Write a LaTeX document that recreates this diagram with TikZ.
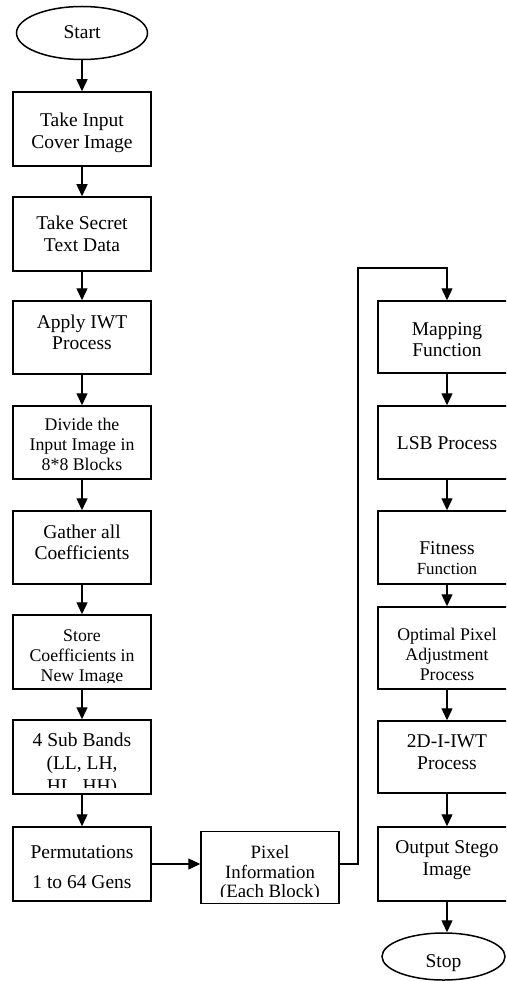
\documentclass[tikz,border=0pt]{standalone}
\usepackage{fontspec}
\setmainfont{Liberation Serif}
\usetikzlibrary{shapes.geometric,arrows.meta}
\newcommand\fbig{\fontsize{19.5}{21.5}\selectfont}
\newcommand\fsmall{\fontsize{17.8}{20}\selectfont}
\tikzset{
  box/.style={draw, line width=1.5pt, minimum width=138pt, minimum height=74pt, inner sep=0pt},
  oval/.style={draw, ellipse, line width=1.5pt, inner sep=0pt},
  txt/.style n args={3}{path picture={
      \clip ([yshift=7pt]path picture bounding box.south west) rectangle (path picture bounding box.north east);
      \node[inner sep=0pt, align=center, font=#1] at ([yshift=#2]path picture bounding box.center) {#3};}},
  etxt/.style n args={3}{path picture={
      \node[inner sep=0pt, align=center, font=#1] at ([yshift=#2]path picture bounding box.center) {#3};}},
  arr/.style={line width=1.4pt, -{Triangle[length=12pt, width=11pt]}},
}
\begin{document}
\begin{tikzpicture}[x=1pt, y=-1pt]
\useasboundingbox (0,0) rectangle (506,981);
\clip (0,0) rectangle (506,981);
\fill[white] (0,0) rectangle (506,981);

% left column
\node[oval, minimum width=131pt, minimum height=53pt, etxt={\fbig}{1pt}{Start}] (start) at (82,33) {};
\node[box, txt={\fbig}{-4pt}{Take Input\\Cover Image}] (b1) at (82,129) {};
\node[box, txt={\fbig}{0pt}{Take Secret\\Text Data}] (b2) at (82,234) {};
\node[box, minimum height=73pt, txt={\fbig}{5pt}{Apply IWT\\Process}] (b3) at (82,337.5) {};
\node[box, minimum height=73pt, txt={\fsmall}{-1.5pt}{Divide the\\Input Image in\\8*8 Blocks}] (b4) at (82,442.5) {};
\node[box, minimum height=73pt, txt={\fbig}{5pt}{Gather all\\Coefficients}] (b5) at (82,547.5) {};
\node[box, txt={\fsmall}{-6pt}{Store\\Coefficients in\\New Image}] (b6) at (82,652) {};
\node[box, txt={\fontsize{19.5}{23}\selectfont}{-8pt}{4 Sub Bands\\(LL, LH,\\HL, HH)}] (b7) at (82,757) {};
\node[box, txt={\fontsize{19.5}{30}\selectfont}{-2.7pt}{Permutations\\1 to 64 Gens}] (b8) at (82,864) {};
\node[box, minimum height=72pt, txt={\fontsize{18.8}{19.5}\selectfont}{-6pt}{Pixel\\Information\\(Each Block)}] (pix) at (270,867.5) {};

% right column
\node[box, minimum height=72pt, txt={\fbig}{-2.7pt}{Mapping\\Function}] (m1) at (447,337) {};
\node[box, minimum height=73pt, txt={\fbig}{-1pt}{LSB Process}] (m2) at (447,442.5) {};
\node[box, minimum height=73pt, txt={\fontsize{19.5}{20}\selectfont}{-11pt}{Fitness\\{\fontsize{17}{20}\selectfont Function}}] (m3) at (447,547.5) {};
\node[box, minimum height=82pt, txt={\fsmall}{-6.5pt}{Optimal Pixel\\Adjustment\\Process}] (m4) at (447,648) {};
\node[box, minimum height=72pt, txt={\fbig}{4.8pt}{2D-I-IWT\\Process}] (m5) at (447,757) {};
\node[box, txt={\fbig}{3.8pt}{Output Stego\\Image}] (m6) at (447,864) {};
\node[oval, minimum width=123pt, minimum height=47pt, etxt={\fbig}{-7pt}{Stop}] (stop) at (443.5,956.5) {};

\coordinate (turn) at (358,268);

% connectors
\draw[arr] (start) -- (b1);
\draw[arr] (b1) -- (b2);
\draw[arr] (b2) -- (b3);
\draw[arr] (b3) -- (b4);
\draw[arr] (b4) -- (b5);
\draw[arr] (b5) -- (b6);
\draw[arr] (b6) -- (b7);
\draw[arr] (b7) -- (b8);
\draw[arr] (b8.east) -- (b8.east -| pix.west);
\draw[arr] (pix.east |- b8.east) -| (turn) -| (m1.north);
\draw[arr] (m1) -- (m2);
\draw[arr] (m2) -- (m3);
\draw[arr] (m3) -- (m4);
\draw[arr] (m4) -- (m5);
\draw[arr] (m5) -- (m6);
\draw[arr] (m6.south) -- (m6.south |- stop.north);
\end{tikzpicture}
\end{document}
